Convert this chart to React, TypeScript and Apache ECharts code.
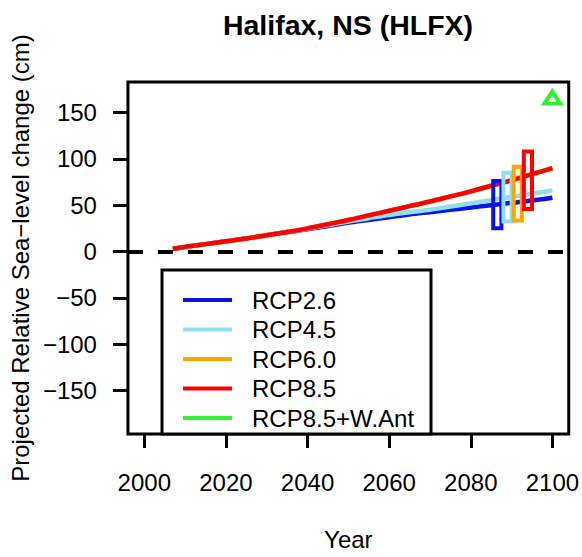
import React, { useEffect, useRef } from "react";
import * as echarts from "echarts";

// Projected relative sea-level change at Halifax, NS (cm)
const years = [2007, 2010, 2015, 2020, 2025, 2030, 2035, 2040, 2045, 2050, 2055, 2060, 2065, 2070, 2075, 2080, 2085, 2090, 2095, 2100];
const rcp26 = [3, 5, 8, 11, 14, 17.5, 21, 24, 27.5, 31, 34, 37, 40, 42.5, 45, 47.5, 50, 52.5, 55, 58];
const rcp45 = [3, 5, 8, 11, 14, 17.5, 21, 24.5, 28.5, 32.5, 36, 39.5, 42.5, 45, 48.5, 52, 55.5, 59, 62.5, 66];
const rcp60 = [3, 5, 8, 11, 14, 17.5, 21, 25, 29.5, 34, 39, 44, 49, 54, 59.5, 65, 71, 77, 83.5, 90];
const rcp85 = [3, 5, 8, 11, 14, 17.5, 21, 25, 29.5, 34, 39, 44, 49, 54, 59.5, 65, 71, 77, 83.5, 90];

// 2100 likely ranges, drawn as boxes just before 2100
const rangeNames = ["RCP2.6", "RCP4.5", "RCP6.0", "RCP8.5"];
const rangeYears = [2086.5, 2089, 2091.5, 2094];
const rangeLow = [25, 32.5, 33.5, 46];
const rangeHigh = [76, 85, 91.5, 108];

// High-end scenario with West Antarctic contribution
const wantYear = [2100];
const wantValue = [166];

const xTicks = [2000, 2020, 2040, 2060, 2080, 2100];
const yTicks = [-150, -100, -50, 0, 50, 100, 150];

const seriesNames = ["RCP2.6", "RCP4.5", "RCP6.0", "RCP8.5", "RCP8.5+W.Ant"];
const palette = ["#0a14e6", "#8fe0ee", "#ffa500", "#ff0000", "#00ee00"];

const FONT = "'Liberation Sans', Arial, Helvetica, sans-serif";

export default function App() {
  const ref = useRef<HTMLDivElement>(null);

  useEffect(() => {
    if (!ref.current) return;
    const chart = echarts.init(ref.current, undefined, { renderer: "svg" });

    const lineSeries = [rcp26, rcp45, rcp60, rcp85].map((vals, i) => ({
      name: seriesNames[i],
      type: "line",
      data: years.map((y, j) => [y, vals[j]]),
      showSymbol: false,
      symbol: "none",
      smooth: 0.3,
      lineStyle: { color: palette[i], width: 4.5 },
      itemStyle: { color: palette[i] },
      z: 2,
      ...(i === 0
        ? {
            markLine: {
              silent: true,
              symbol: ["none", "none"],
              label: { show: false },
              lineStyle: { color: "#000", width: 4, type: [15, 15] },
              data: [{ yAxis: 0 }],
              z: 1,
            },
          }
        : {}),
    }));

    const option: any = {
      animation: false,
      backgroundColor: "#fff",
      textStyle: { fontFamily: FONT, color: "#000" },
      title: {
        text: "Halifax, NS (HLFX)",
        left: 343,
        textAlign: "center",
        top: 5,
        textStyle: { fontFamily: FONT, fontSize: 28.5, fontWeight: "bold", color: "#000" },
      },
      grid: {
        left: 125,
        right: 13,
        top: 82,
        bottom: 123,
        show: true,
        borderColor: "#000",
        borderWidth: 3,
        backgroundColor: "transparent",
      },
      xAxis: {
        type: "value",
        min: 1996,
        max: 2104,
        name: "Year",
        nameLocation: "middle",
        nameGap: 93,
        nameTextStyle: { fontFamily: FONT, fontSize: 24, color: "#000" },
        axisLine: { show: false, onZero: false },
        splitLine: { show: false },
        axisTick: {
          show: true,
          inside: false,
          length: 14,
          lineStyle: { color: "#000", width: 3 },
          customValues: xTicks,
        },
        axisLabel: {
          fontFamily: FONT,
          fontSize: 24,
          color: "#000",
          margin: 36,
          customValues: xTicks,
          formatter: (v: number) => String(v),
        },
      },
      yAxis: {
        type: "value",
        min: -197,
        max: 183,
        name: "Projected Relative Sea\u2212level change (cm)",
        nameLocation: "middle",
        nameGap: 92,
        nameRotate: 90,
        nameTextStyle: { fontFamily: FONT, fontSize: 24, color: "#000" },
        axisLine: { show: false, onZero: false },
        splitLine: { show: false },
        axisTick: {
          show: true,
          inside: false,
          length: 15,
          lineStyle: { color: "#000", width: 3 },
          customValues: yTicks,
        },
        axisLabel: {
          fontFamily: FONT,
          fontSize: 24,
          color: "#000",
          margin: 31,
          customValues: yTicks,
          formatter: (v: number) => String(v).replace("-", "\u2212"),
        },
      },
      legend: {
        orient: "vertical",
        left: 183,
        top: 288,
        padding: 0,
        itemGap: 5.5,
        itemWidth: 49,
        itemHeight: 4,
        selectedMode: false,
        textStyle: {
          fontFamily: FONT,
          fontSize: 24,
          lineHeight: 24,
          color: "#000",
          padding: [0, 0, 0, 15],
        },
        data: seriesNames.map((n, i) => ({
          name: n,
          icon: "rect",
          itemStyle: { color: palette[i], borderWidth: 0 },
        })),
        z: 6,
      },
      graphic: [
        {
          type: "rect",
          z: 5,
          shape: { x: 162, y: 270, width: 269, height: 164 },
          style: { fill: "#fff", stroke: "#000", lineWidth: 3 },
        },
      ],
      series: [
        ...lineSeries,
        {
          name: "ranges",
          type: "custom",
          z: 3,
          data: rangeYears.map((y, i) => [y, rangeLow[i], rangeHigh[i]]),
          encode: { x: 0, y: [1, 2] },
          renderItem: (params: any, api: any) => {
            const x = api.value(0);
            const lo = api.value(1);
            const hi = api.value(2);
            const p1 = api.coord([x - 1, hi]);
            const p2 = api.coord([x + 1, lo]);
            const color = palette[seriesNames.indexOf(rangeNames[params.dataIndex])];
            return {
              type: "rect",
              shape: { x: p1[0], y: p1[1], width: p2[0] - p1[0], height: p2[1] - p1[1] },
              style: { fill: "none", stroke: color, lineWidth: 4 },
            };
          },
        },
        {
          name: "RCP8.5+W.Ant",
          type: "scatter",
          z: 3,
          symbol: "triangle",
          symbolSize: [16, 12],
          data: wantYear.map((y, i) => [y, wantValue[i]]),
          itemStyle: { color: "rgba(0,0,0,0)", borderColor: palette[4], borderWidth: 4 },
        },
      ],
    };

    chart.setOption(option);
    return () => chart.dispose();
  }, []);

  return (
    <div
      ref={ref}
      style={{ position: "fixed", left: 0, top: 0, width: 582, height: 557, background: "#fff" }}
    />
  );
}
